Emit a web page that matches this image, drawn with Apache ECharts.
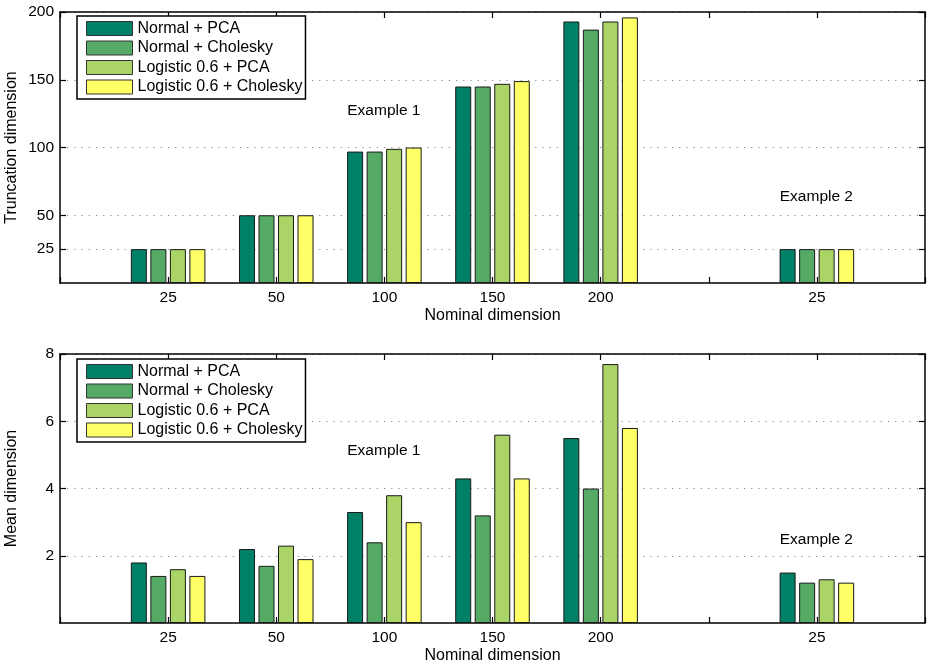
<!DOCTYPE html>
<html>
<head>
<meta charset="utf-8">
<script src="https://cdn.jsdelivr.net/npm/echarts@6/dist/echarts.min.js"></script>
<style>
html,body{margin:0;padding:0;background:#fff;}
#chart{width:927px;height:665px;}
</style>
</head>
<body>
<div id="chart"></div>
<script>
// ---- data ----
// tick labels at x slots 0..8 (slots 0, 6, 8 are empty)
const tickLabels = ['', '25', '50', '100', '150', '200', '', '25', ''];
// x slot of each group of bars
const groupSlots = [1, 2, 3, 4, 5, 7];
const seriesNames = ['Normal + PCA', 'Normal + Cholesky', 'Logistic 0.6 + PCA', 'Logistic 0.6 + Cholesky'];
// Truncation dimension (top panel)
const truncNormalPCA    = [25, 50, 97, 145, 193, 25];
const truncNormalChol   = [25, 50, 97, 145, 187, 25];
const truncLogisticPCA  = [25, 50, 99, 147, 193, 25];
const truncLogisticChol = [25, 50, 100, 149, 196, 25];
// Mean dimension (bottom panel)
const meanNormalPCA     = [1.8, 2.2, 3.3, 4.3, 5.5, 1.5];
const meanNormalChol    = [1.4, 1.7, 2.4, 3.2, 4.0, 1.2];
const meanLogisticPCA   = [1.6, 2.3, 3.8, 5.6, 7.7, 1.3];
const meanLogisticChol  = [1.4, 1.9, 3.0, 4.3, 5.8, 1.2];
const topYTicks = [25, 50, 100, 150, 200];
const bottomYTicks = [2, 4, 6, 8];
const topYMax = 200;
const bottomYMax = 8;
const topAnnotations = [['Example 1', 3, 127], ['Example 2', 7, 63]];
const bottomAnnotations = [['Example 1', 3, 5.1], ['Example 2', 7, 2.45]];

// ---- styling ----
const colors = ['#008066', '#55AA66', '#AAD466', '#FFFF66'];
const FONT = '"Liberation Sans", Arial, Helvetica, sans-serif';
const TICK_FS = 15.5;
const NAME_FS = 16;
const X_MAX = tickLabels.length - 1;

const chart = echarts.init(document.getElementById('chart'), null, {renderer: 'canvas'});

function tickStyle() {
  return {show: true, inside: true, length: 6, lineStyle: {color: '#000', width: 1.2}};
}

function xAxes(gridIndex, name) {
  const common = {
    type: 'value', gridIndex: gridIndex, min: 0, max: X_MAX, interval: 1,
    axisLine: {show: true, onZero: false, lineStyle: {color: '#000', width: 1.5}},
    axisTick: tickStyle(),
    splitLine: {show: false}
  };
  return [
    Object.assign({}, common, {
      position: 'bottom',
      axisLabel: {show: true, margin: 7, fontSize: TICK_FS, color: '#000', fontFamily: FONT,
                  showMinLabel: true, showMaxLabel: true,
                  formatter: v => tickLabels[Math.round(v)] || ''},
      name: name, nameLocation: 'middle', nameGap: 25, nameMoveOverlap: false,
      nameTextStyle: {fontSize: NAME_FS, color: '#000', fontFamily: FONT}
    }),
    Object.assign({}, common, {
      position: 'top',
      axisTick: tickStyle(),
      axisLabel: {show: false}
    })
  ];
}

function yAxes(gridIndex, max, ticks, name) {
  const common = {
    type: 'value', gridIndex: gridIndex, min: 0, max: max,
    axisLine: {show: true, onZero: false, lineStyle: {color: '#000', width: 1.5}}
  };
  return [
    Object.assign({}, common, {
      position: 'left',
      axisTick: Object.assign({customValues: ticks}, tickStyle()),
      axisLabel: {show: true, customValues: ticks, fontSize: TICK_FS, color: '#000', fontFamily: FONT, margin: 6},
      splitLine: {show: true, lineStyle: {color: '#8a8a8a', width: 1, type: [1.2, 6]}},
      name: name, nameLocation: 'middle', nameGap: 40, nameMoveOverlap: false,
      nameTextStyle: {fontSize: NAME_FS, color: '#000', fontFamily: FONT}
    }),
    Object.assign({}, common, {
      position: 'right',
      axisTick: Object.assign({customValues: ticks}, tickStyle()),
      axisLabel: {show: false},
      splitLine: {show: false}
    })
  ];
}

function barSeries(xi, yi, arrays) {
  return arrays.map((arr, k) => ({
    type: 'bar', name: seriesNames[k], xAxisIndex: xi, yAxisIndex: yi,
    data: arr.map((v, i) => [groupSlots[i], v]),
    barWidth: 16, barGap: '22%', z: 1,
    itemStyle: {color: colors[k], borderColor: '#1a1a1a', borderWidth: 1},
    emphasis: {disabled: true},
    animation: false
  }));
}

function annotationSeries(xi, yi, notes) {
  return {
    type: 'scatter', name: 'annotations', xAxisIndex: xi, yAxisIndex: yi,
    data: notes.map(n => ({name: n[0], value: [n[1], n[2]]})),
    symbolSize: 1, itemStyle: {color: 'rgba(0,0,0,0)', opacity: 1},
    label: {show: true, position: [0, 0], align: 'center', verticalAlign: 'middle',
            color: '#000', fontSize: TICK_FS, fontFamily: FONT,
            textBorderWidth: 0, formatter: p => p.name},
    silent: true, emphasis: {disabled: true}, animation: false, z: 5
  };
}

function legend(top) {
  return {
    data: seriesNames, orient: 'vertical', left: 77, top: top,
    padding: [4.5, 3, 4, 9], itemWidth: 46, itemHeight: 14, itemGap: 3.5,
    borderColor: '#000', borderWidth: 1.5, backgroundColor: '#fff',
    icon: 'rect', selectedMode: false, z: 20,
    itemStyle: {borderColor: '#333', borderWidth: 1},
    textStyle: {fontSize: NAME_FS, color: '#000', fontFamily: FONT}
  };
}

const option = {
  animation: false,
  backgroundColor: '#fff',
  grid: [
    {left: 60, right: 2, top: 12, height: 271, outerBoundsMode: 'none', containLabel: false},
    {left: 60, right: 2, top: 354, height: 269, outerBoundsMode: 'none', containLabel: false}
  ],
  legend: [legend(16), legend(359)],
  xAxis: [].concat(xAxes(0, 'Nominal dimension'), xAxes(1, 'Nominal dimension')),
  yAxis: [].concat(yAxes(0, topYMax, topYTicks, 'Truncation dimension'), yAxes(1, bottomYMax, bottomYTicks, 'Mean dimension')),
  series: [].concat(
    barSeries(0, 0, [truncNormalPCA, truncNormalChol, truncLogisticPCA, truncLogisticChol]),
    [annotationSeries(0, 0, topAnnotations)],
    barSeries(2, 2, [meanNormalPCA, meanNormalChol, meanLogisticPCA, meanLogisticChol]),
    [annotationSeries(2, 2, bottomAnnotations)]
  )
};
chart.setOption(option);
</script>
</body>
</html>
